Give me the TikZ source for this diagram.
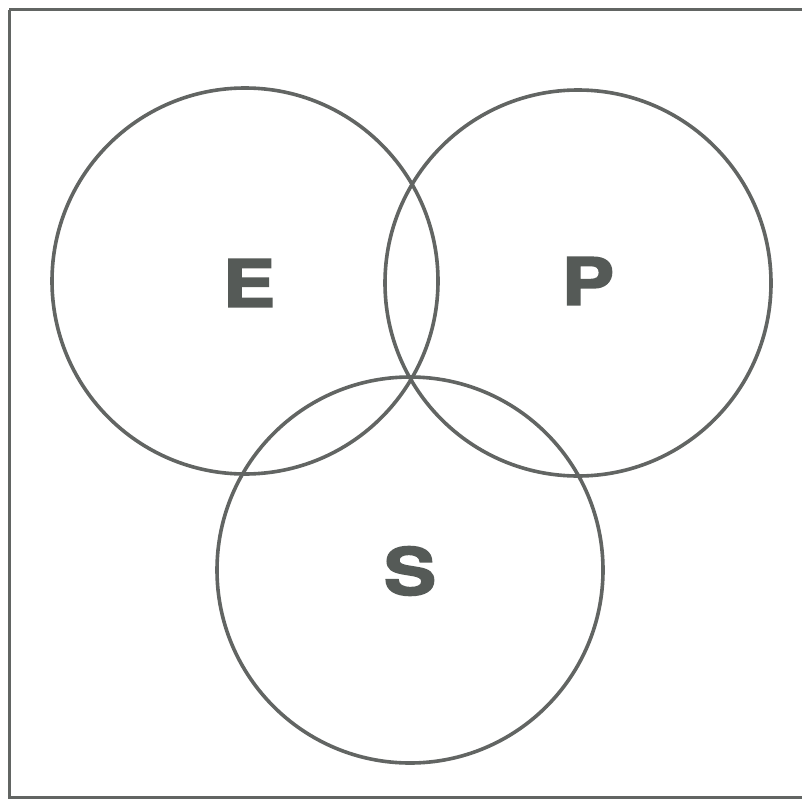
\documentclass[tikz,border=0pt]{standalone}
\usepackage{fontspec}
\newfontfamily\heavy[FakeBold=2.6]{TeX Gyre Heros}
\definecolor{ink}{HTML}{626563}
\definecolor{letter}{HTML}{555A57}
\begin{document}
\begin{tikzpicture}[x=1pt,y=-1pt,
  ring/.style={draw=ink,line width=3.6pt},
  frame/.style={draw=ink,line width=3pt},
  lbl/.style={text=letter,font=\heavy\bfseries\fontsize{65}{65}\selectfont,inner sep=0pt,xscale=1.2}]
\useasboundingbox (0,0) rectangle (803,800);
\fill[white] (0,0) rectangle (803,800);
\draw[frame] (9,10) -- (802,10);
\draw[frame] (9,10) -- (9,797) -- (802,797);
\node[ring,circle,minimum size=386pt,inner sep=0pt] (ce) at (245,281) {};
\node[ring,circle,minimum size=386pt,inner sep=0pt] (cp) at (578,283) {};
\node[ring,circle,minimum size=386pt,inner sep=0pt] (cs) at (410,570) {};
\node[lbl] (e) at (249,283) {E};
\node[lbl] (p) at (588,281) {P};
\node[lbl] (s) at (410,571) {S};
\end{tikzpicture}
\end{document}
